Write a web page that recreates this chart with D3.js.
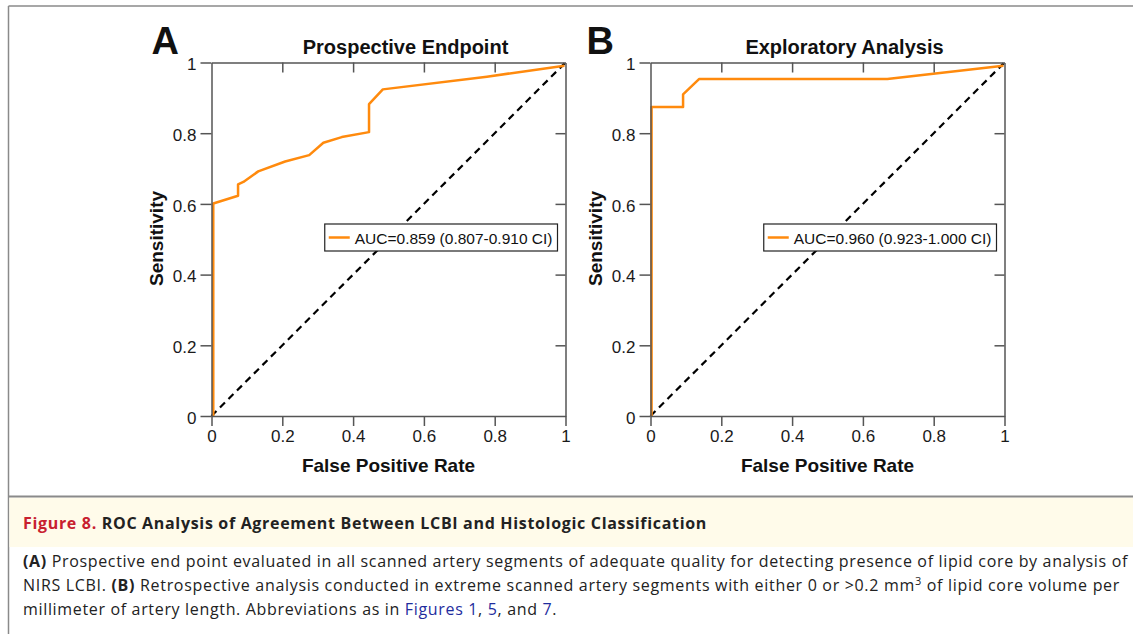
<!DOCTYPE html>
<html lang="en">
<head>
    <meta charset="UTF-8">
    <title>ROC Analysis - Figure 8</title>
    <script src="https://d3js.org/d3.v7.min.js"></script>
    <style>
        body { margin: 0; background: #fff; }
        svg { display: block; }
        .tick text { font-family: "Liberation Sans", Arial, sans-serif; font-size: 17px; fill: #1a1a1a; }
        .axis-title { font-family: "Liberation Sans", Arial, sans-serif; font-weight: bold; font-size: 19px; fill: #111; }
        .caption { font-family: "Open Sans", sans-serif; font-size: 16px; fill: #222; }
    </style>
</head>
<body>
<svg width="1133" height="634"></svg>
<script>
    // chart data
    const panelLetters = ["A", "B"];
    const panelTitles = ["Prospective Endpoint", "Exploratory Analysis"];
    const legendLabels = ["AUC=0.859 (0.807-0.910 CI)", "AUC=0.960 (0.923-1.000 CI)"];

    const fprA = [0.005, 0.005, 0.075, 0.075, 0.090, 0.132, 0.208, 0.276, 0.316, 0.368, 0.445, 0.445, 0.484, 0.778, 0.997];
    const tprA = [0, 0.601, 0.623, 0.655, 0.662, 0.692, 0.720, 0.738, 0.773, 0.789, 0.803, 0.882, 0.924, 0.960, 0.991];
    const fprB = [0.003, 0.003, 0.092, 0.092, 0.137, 0.669, 0.997];
    const tprB = [0, 0.874, 0.874, 0.910, 0.953, 0.953, 0.991];

    const tickValues = [0, 0.2, 0.4, 0.6, 0.8, 1];
    const innerTicks = [0.2, 0.4, 0.6, 0.8];

    const captionTitle = "ROC Analysis of Agreement Between LCBI and Histologic Classification";

    const svg = d3.select("svg");
    const orange = "#ff8a0d";
    const axisGray = "#555";

    // page frame
    svg.append("line").attr("x1", 8.5).attr("x2", 1133).attr("y1", 6).attr("y2", 6)
        .attr("stroke", "#8a8a8a").attr("stroke-width", 1.5);
    svg.append("line").attr("x1", 8.5).attr("x2", 8.5).attr("y1", 6).attr("y2", 634)
        .attr("stroke", "#8a8a8a").attr("stroke-width", 1.5);
    svg.append("rect").attr("x", 9.5).attr("y", 497.5).attr("width", 1124).attr("height", 49.5)
        .attr("fill", "#fffbea");
    svg.append("line").attr("x1", 9).attr("x2", 1133).attr("y1", 496.5).attr("y2", 496.5)
        .attr("stroke", "#8a8a8a").attr("stroke-width", 2);

    const fmt = d3.format("~g");
    const size = 354;

    function drawPanel(i, left, fpr, tpr) {
        const top = 62.5;
        const x = d3.scaleLinear().domain([0, 1]).range([0, size]);
        const y = d3.scaleLinear().domain([0, 1]).range([size - 0.5, 0]);
        const g = svg.append("g").attr("transform", `translate(${left},${top})`);

        // diagonal reference
        g.append("line")
            .attr("x1", x(0)).attr("y1", y(0)).attr("x2", x(1)).attr("y2", y(1))
            .attr("stroke", "#000").attr("stroke-width", 2.2)
            .attr("stroke-dasharray", "7,5");

        // roc curve
        const pts = fpr.map((f, k) => [f, tpr[k]]);
        g.append("path")
            .datum(pts)
            .attr("fill", "none")
            .attr("stroke", orange)
            .attr("stroke-width", 2.5)
            .attr("stroke-linejoin", "round")
            .attr("d", d3.line().x(d => x(d[0])).y(d => y(d[1])));

        // axes: outward ticks left/bottom, inward ticks top/right
        const bottom = g.append("g").attr("transform", `translate(0,${y(0)})`)
            .call(d3.axisBottom(x).tickValues(tickValues).tickSize(10).tickSizeOuter(0).tickPadding(4).tickFormat(fmt));
        const leftAx = g.append("g")
            .call(d3.axisLeft(y).tickValues(tickValues).tickSize(11).tickSizeOuter(0).tickPadding(4).tickFormat(fmt));
        leftAx.selectAll(".tick text").attr("dy", "0.42em");
        const topAx = g.append("g")
            .call(d3.axisTop(x).tickValues(innerTicks).tickSize(-10).tickSizeOuter(0).tickFormat(""));
        const rightAx = g.append("g").attr("transform", `translate(${size},0)`)
            .call(d3.axisRight(y).tickValues(innerTicks).tickSize(-10).tickSizeOuter(0).tickFormat(""));

        [bottom, leftAx, topAx, rightAx].forEach(a => {
            a.select(".domain").attr("stroke", axisGray).attr("stroke-width", 1.5);
            a.selectAll(".tick line").attr("stroke", axisGray).attr("stroke-width", 1.5);
        });

        // titles
        g.append("text").attr("class", "axis-title")
            .attr("x", size / 2).attr("y", 409.5).attr("text-anchor", "middle")
            .text("False Positive Rate");
        g.append("text").attr("class", "axis-title")
            .attr("transform", `translate(-49,${size / 2 - 1}) rotate(-90)`)
            .attr("text-anchor", "middle")
            .text("Sensitivity");
        g.append("text").attr("class", "axis-title")
            .style("font-size", "20px")
            .attr("x", 194).attr("y", -9).attr("text-anchor", "middle")
            .text(panelTitles[i]);
        g.append("text").attr("class", "axis-title")
            .style("font-size", "38px")
            .attr("x", i === 0 ? -60 : -64).attr("y", -9)
            .text(panelLetters[i]);

        // legend
        const lg = g.append("g");
        const box = lg.append("rect").attr("fill", "#fff").attr("stroke", "#222").attr("stroke-width", 1.2);
        const lt = lg.append("text")
            .attr("font-family", "Liberation Sans, Arial, sans-serif")
            .attr("font-size", "15.5px").attr("fill", "#111")
            .attr("x", 30).attr("y", 19.5)
            .text(legendLabels[i]);
        lg.append("line").attr("x1", 4).attr("x2", 25).attr("y1", 13.5).attr("y2", 13.5)
            .attr("stroke", orange).attr("stroke-width", 2.5);
        const w = 30 + lt.node().getComputedTextLength() + 5;
        box.attr("width", w).attr("height", 27);
        lg.attr("transform", `translate(${size - 8 - w},${161.5})`);
    }

    drawPanel(0, 211.5, fprA, tprA);
    drawPanel(1, 650.5, fprB, tprB);

    // caption: stretch lines to the measured widths
    function fit(textSel, x0, x1) {
        const n = textSel.text().length;
        const cur = textSel.node().getComputedTextLength();
        textSel.attr("letter-spacing", ((x1 - x0) - cur) / n);
    }

    const cap = svg.append("g").attr("class", "caption");

    const t0 = cap.append("text").attr("x", 23).attr("y", 529).attr("font-weight", "bold");
    t0.append("tspan").attr("fill", "#c8202f").text("Figure 8. ");
    t0.append("tspan").attr("fill", "#222").text(captionTitle);
    fit(t0, 23, 707);

    const t1 = cap.append("text").attr("x", 23).attr("y", 567);
    t1.append("tspan").attr("font-weight", "bold").text("(A)");
    t1.append("tspan").text(" Prospective end point evaluated in all scanned artery segments of adequate quality for detecting presence of lipid core by analysis of");
    fit(t1, 23, 1128);

    const t2 = cap.append("text").attr("x", 23).attr("y", 591);
    t2.append("tspan").text("NIRS LCBI. ");
    t2.append("tspan").attr("font-weight", "bold").text("(B)");
    t2.append("tspan").text(" Retrospective analysis conducted in extreme scanned artery segments with either 0 or >0.2 mm");
    t2.append("tspan").attr("font-size", "11px").attr("dy", -6).text("3");
    t2.append("tspan").attr("dy", 6).text(" of lipid core volume per");
    fit(t2, 23, 1120);

    const blue = "#1f2d9e";
    const t3 = cap.append("text").attr("x", 23).attr("y", 615);
    t3.append("tspan").text("millimeter of artery length. Abbreviations as in ");
    t3.append("tspan").attr("fill", blue).text("Figures 1");
    t3.append("tspan").text(", ");
    t3.append("tspan").attr("fill", blue).text("5");
    t3.append("tspan").text(", and ");
    t3.append("tspan").attr("fill", blue).text("7");
    t3.append("tspan").text(".");
    t3.attr("letter-spacing", t1.attr("letter-spacing"));
</script>
</body>
</html>
